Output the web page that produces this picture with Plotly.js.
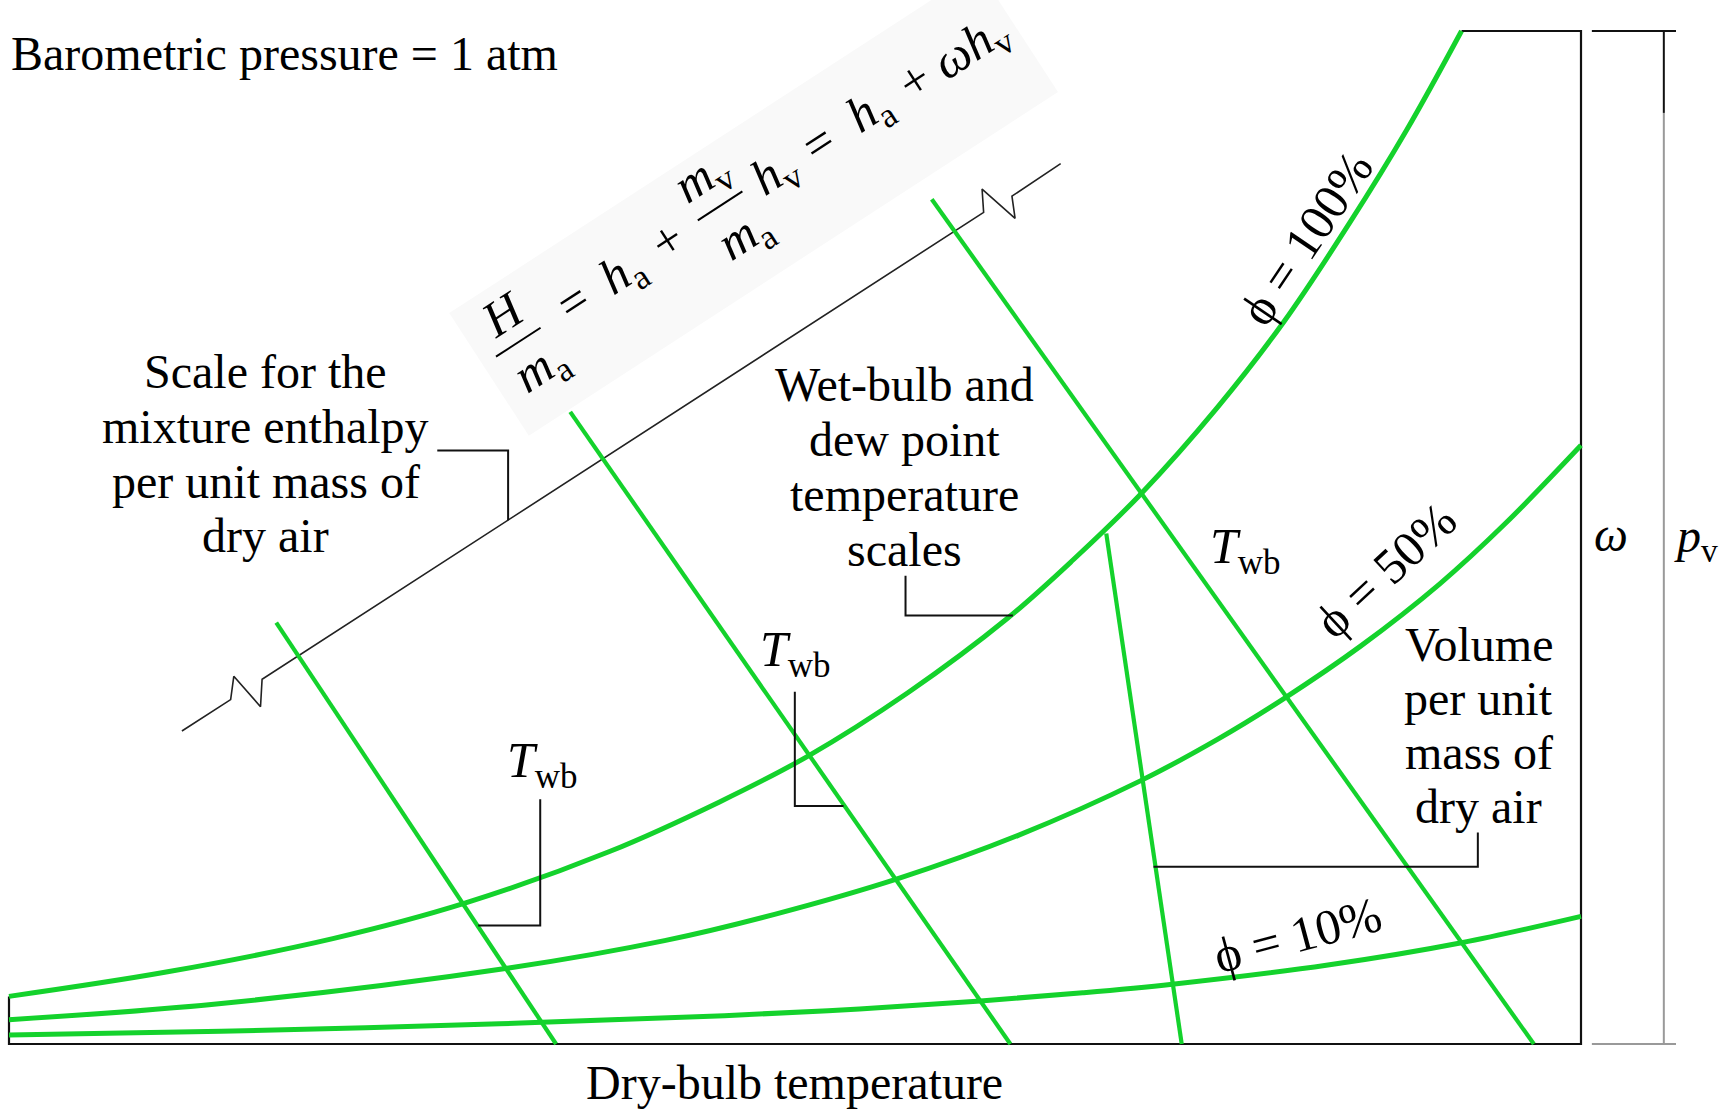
<!DOCTYPE html>
<html><head><meta charset="utf-8">
<script src="https://cdn.plot.ly/plotly-3.0.1.min.js"></script>
<style>html,body{margin:0;padding:0;background:#fff;}#chart{width:1734px;height:1109px;}</style>
</head><body><div id="chart"></div>
<script>
// ---- data, in chart units (dry-bulb 0..100 across the box, humidity ratio 0..100 up the box) ----
const rh100X = [0, 10.0, 20.6, 29.0, 38.2, 45.2, 50.8, 57.2, 63.5, 67.7, 72.0, 76.9, 81.1, 85.3, 88.9, 92.4];
const rh100Y = [4.7, 7.1, 10.4, 13.9, 19.0, 23.9, 28.4, 34.7, 42.0, 47.8, 54.3, 62.9, 71.3, 81.1, 90.2, 100];
const rh50X  = [0, 13.5, 31.8, 41.7, 48.7, 56.5, 64.2, 72.0, 76.9, 81.1, 86.0, 91.0, 95.2, 100];
const rh50Y  = [2.4, 4.0, 7.5, 10.2, 12.8, 16.3, 20.6, 26.0, 30.1, 34.1, 39.3, 45.4, 51.4, 59.1];
const rh10X  = [0, 13.5, 31.2, 45.5, 54.1, 61.8, 68.3, 74.0, 83.9, 92.4, 100];
const rh10Y  = [0.9, 1.25, 2.0, 2.8, 3.45, 4.25, 5.05, 5.9, 7.8, 10.0, 12.6];
const twb1X = [17.0, 34.8], twb1Y = [41.6, 0];
const twb2X = [35.7, 63.7], twb2Y = [62.4, 0];
const twb3X = [58.7, 97.0], twb3Y = [83.4, 0];
const volX  = [69.8, 74.6], volY  = [50.4, 0];
const enthX = [11.0, 14.1, 14.3, 16.0, 16.1, 62.0, 61.9, 64.0, 63.8, 66.9];
const enthY = [30.9, 34.0, 36.3, 33.3, 36.0, 82.1, 84.4, 81.5, 83.7, 86.9];
const frameX = [0, 0, 100, 100, 92.4];
const frameY = [4.7, 0, 0, 100, 100];
const rhLabels = ['ϕ = 100%', 'ϕ = 50%', 'ϕ = 10%'];
const titleText = 'Barometric pressure = 1 atm';
const xLabel = 'Dry-bulb temperature';
const scaleLines = ['Scale for the', 'mixture enthalpy', 'per unit mass of', 'dry air'];
const wbLines = ['Wet-bulb and', 'dew point', 'temperature', 'scales'];
const volLines = ['Volume', 'per unit', 'mass of', 'dry air'];
const twbText = '<i>T</i><sub>wb</sub>';

// ---- geometry helpers (reference-pixel positions -> paper) ----
const K = 1.107;
const PL = 1, PT = 26, PW = 1588, PH = 1023;
const fx = p => (p * K - PL) / PW;
const fy = p => (PT + PH - p * K) / PH;
const SERIF = 'Liberation Serif, Times New Roman, serif';
const GREEN = '#14d22c';

function label(text, xP, yP, size, extra) {
  return Object.assign({text: text, x: fx(xP), y: fy(yP), xref: 'paper', yref: 'paper',
    showarrow: false, xanchor: 'center', yanchor: 'middle',
    font: {family: SERIF, size: size, color: '#000'}}, extra || {});
}
function block(lines, xP, y0, step, size) {
  return lines.map((t, i) => label(t, xP, y0 + i * step, size));
}
function pathP(pts) {
  return pts.map((p, i) => (i ? 'L' : 'M') + fx(p[0]).toFixed(5) + ',' + fy(p[1]).toFixed(5)).join(' ');
}
// equation frame: rotated baseline through the first "="
const TH = 33 * Math.PI / 180, EO = [518, 272];
function eq(s, t) { return [EO[0] + s * Math.cos(TH) - t * Math.sin(TH), EO[1] - s * Math.sin(TH) - t * Math.cos(TH)]; }
const eqTokens = [
  [-60, 25, '<i>H</i>'], [-57, -36, '<i>m</i><sub>a</sub>'], [0, 0, '='], [51, -4, '<i>h</i><sub>a</sub>'],
  [101, 0, '+'], [158, 29, '<i>m</i><sub>v</sub>'], [162, -36, '<i>m</i><sub>a</sub>'], [216, -3, '<i>h</i><sub>v</sub>'],
  [263, 0, '='], [318, -3, '<i>h</i><sub>a</sub>'], [367, 0, '+'], [426, -5, '<i>ωh</i><sub>v</sub>']
];

const traces = [];
function line(x, y, color, width, shape) {
  traces.push({type: 'scatter', mode: 'lines', x: x, y: y, hoverinfo: 'skip',
    line: {color: color, width: width, shape: shape || 'linear', smoothing: 1, simplify: false}});
}
line(frameX, frameY, '#111', 2.2);
line(enthX, enthY, '#222', 1.6);
line(rh100X, rh100Y, GREEN, 5, 'spline');
line(rh50X, rh50Y, GREEN, 5, 'spline');
line(rh10X, rh10Y, GREEN, 5, 'spline');
line(twb1X, twb1Y, GREEN, 4.2);
line(twb2X, twb2Y, GREEN, 4.2);
line(twb3X, twb3Y, GREEN, 4.2);
line(volX, volY, GREEN, 4.2);

const shapes = [];
// equation background (faint)
const box = [eq(-100, -80), eq(470, -80), eq(470, 52), eq(-100, 52)];
shapes.push({type: 'path', xref: 'paper', yref: 'paper', path: pathP(box) + ' Z',
  fillcolor: '#f9f9f9', line: {width: 0}, layer: 'below'});
// fraction bars
[[-86, -38, -4], [134, 182, 0]].forEach(b => {
  const a = eq(b[0], b[2]), c = eq(b[1], b[2]);
  shapes.push({type: 'line', xref: 'paper', yref: 'paper', x0: fx(a[0]), y0: fy(a[1]), x1: fx(c[0]), y1: fy(c[1]),
    line: {color: '#000', width: 2}});
});
// leader lines of the callouts
const leaders = [
  [[395, 407], [459, 407], [459, 470]],
  [[818, 520], [818, 556], [915, 556]],
  [[718, 625], [718, 728], [762, 728]],
  [[488, 722], [488, 836], [432, 836]],
  [[1335, 752], [1335, 783], [1042, 783]]
];
leaders.forEach(p => shapes.push({type: 'path', xref: 'paper', yref: 'paper', path: pathP(p),
  line: {color: '#111', width: 2}}));
// p_v scale on the right
shapes.push({type: 'line', xref: 'paper', yref: 'paper', x0: fx(1438), x1: fx(1514), y0: fy(28), y1: fy(28), line: {color: '#111', width: 2}});
shapes.push({type: 'line', xref: 'paper', yref: 'paper', x0: fx(1503), x1: fx(1503), y0: fy(28), y1: fy(102), line: {color: '#111', width: 2}});
shapes.push({type: 'line', xref: 'paper', yref: 'paper', x0: fx(1503), x1: fx(1503), y0: fy(102), y1: fy(943), line: {color: '#999', width: 2}});
shapes.push({type: 'line', xref: 'paper', yref: 'paper', x0: fx(1438), x1: fx(1514), y0: fy(943), y1: fy(943), line: {color: '#999', width: 2}});

const anns = [];
anns.push(label(titleText, 8, 48, 48, {xanchor: 'left'}));
anns.push(label(xLabel, 718, 978, 48));
anns.push(...block(scaleLines, 240, 336, 49.3, 48));
anns.push(...block(wbLines, 817, 347, 49.7, 48));
anns.push(...block(volLines, 1336, 582, 48.7, 48));
anns.push(label(twbText, 719, 590, 50));
anns.push(label(twbText, 490, 690, 50));
anns.push(label(twbText, 1125, 497, 50));
anns.push(label('<i>ω</i>', 1455, 483, 48));
anns.push(label('<i>p</i><sub>v</sub>', 1532, 487, 48));
anns.push(label(rhLabels[0], 1180, 215, 50, {textangle: -56}));
anns.push(label(rhLabels[1], 1252, 515, 50, {textangle: -43}));
anns.push(label(rhLabels[2], 1172, 845, 50, {textangle: -15}));
eqTokens.forEach(tk => { const p = eq(tk[0], tk[1]); anns.push(label(tk[2], p[0], p[1], 50, {textangle: -33})); });

const layout = {
  width: 1734, height: 1109, autosize: false,
  margin: {l: PL, r: 1734 - PL - PW, t: PT, b: 1109 - PT - PH, pad: 0},
  paper_bgcolor: '#fff', plot_bgcolor: '#fff', showlegend: false,
  xaxis: {range: [(PL - 9) * 100 / 1572, (PL + PW - 9) * 100 / 1572], visible: false, fixedrange: true},
  yaxis: {range: [(1044 - PT - PH) * 100 / 1013, (1044 - PT) * 100 / 1013], visible: false, fixedrange: true},
  shapes: shapes, annotations: anns
};
Plotly.newPlot('chart', traces, layout, {displayModeBar: false, staticPlot: true});
</script></body></html>
